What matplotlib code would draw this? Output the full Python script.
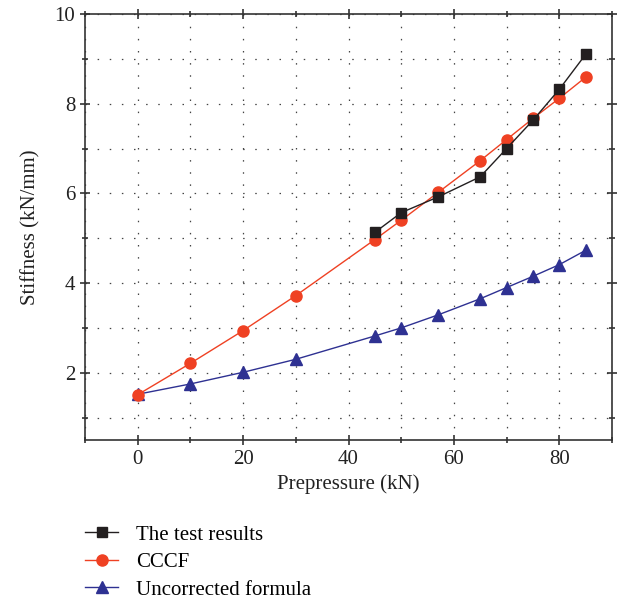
import matplotlib
matplotlib.use("Agg")
import matplotlib.pyplot as plt
from matplotlib.ticker import MultipleLocator

plt.rcParams['font.family'] = ['Liberation Serif', 'DejaVu Serif']

# Data
x_test = [45, 50, 57, 65, 70, 75, 80, 85]
y_test = [5.13, 5.57, 5.92, 6.37, 7.00, 7.63, 8.32, 9.10]

x_cccf = [0, 10, 20, 30, 45, 50, 57, 65, 70, 75, 80, 85]
y_cccf = [1.51, 2.21, 2.94, 3.72, 4.97, 5.40, 6.02, 6.73, 7.20, 7.67, 8.12, 8.59]

x_unc = [0, 10, 20, 30, 45, 50, 57, 65, 70, 75, 80, 85]
y_unc = [1.52, 1.75, 2.01, 2.30, 2.82, 3.00, 3.29, 3.65, 3.90, 4.15, 4.41, 4.73]

labels = ["The test results", "CCCF", "Uncorrected formula"]
colors = ["#231f20", "#ef4123", "#2e3192"]

fig = plt.figure(figsize=(6.24, 6.02), dpi=100)
ax = fig.add_axes([85/624, 1 - 440/602, (612-85)/624, (440-14)/602])

ax.plot(x_test, y_test, color=colors[0], marker='s', markersize=7, lw=1.0, label=labels[0], zorder=5)
ax.plot(x_cccf, y_cccf, color=colors[1], marker='o', markersize=8, lw=1.0, label=labels[1], zorder=4)
ax.plot(x_unc, y_unc, color=colors[2], marker='^', markersize=8, lw=1.0, label=labels[2], zorder=3)

ax.set_xlim(-10, 90)
ax.set_ylim(0.5, 10)
ax.xaxis.set_major_locator(MultipleLocator(20))
ax.xaxis.set_minor_locator(MultipleLocator(10))
ax.yaxis.set_major_locator(MultipleLocator(2))
ax.yaxis.set_minor_locator(MultipleLocator(1))

ax.grid(True, which='both', color='#444444', linestyle=(0, (1.2, 8.5)), linewidth=0.9)
ax.set_axisbelow(True)

for s in ax.spines.values():
    s.set_color('#333333')
    s.set_linewidth(1.2)

ax.tick_params(which='both', direction='inout', top=True, right=True, colors='#333333',
               labelcolor='#222222', labelsize=15, width=1.2)
ax.tick_params(which='major', length=7)
ax.tick_params(which='minor', length=5)

ax.set_xlabel("Prepressure (kN)", fontsize=15, color='#222222', labelpad=4)
ax.set_ylabel("Stiffness (kN/mm)", fontsize=15, color='#222222', labelpad=10)

leg = ax.legend(loc='upper left', bbox_to_anchor=(0.0, -0.2), frameon=False, fontsize=15,
                handlelength=1.6, handletextpad=0.85, labelspacing=0.38, borderaxespad=0, borderpad=0)

fig.savefig("out.png", dpi=100)
